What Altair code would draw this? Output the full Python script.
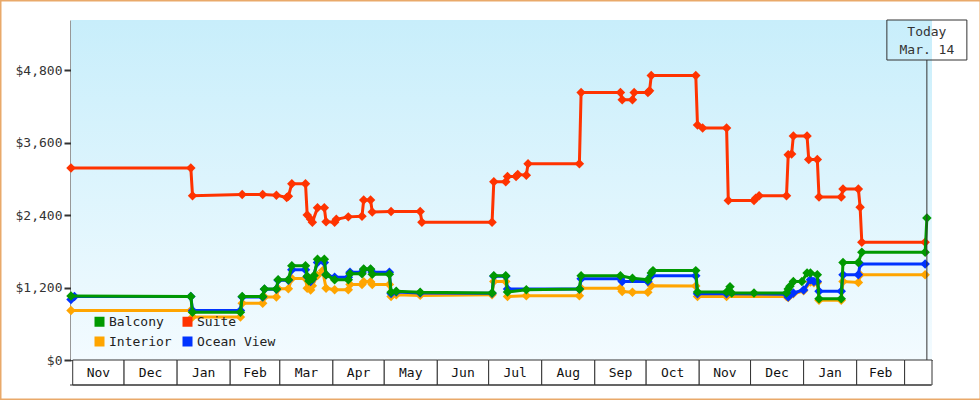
import altair as alt
import pandas as pd

FONT = "DejaVu Sans Mono"
INK = "#333333"
W, H = 861, 340

series_names = ["Balcony", "Suite", "Interior", "Ocean View"]
series_colors = ["#009900", "#ff3300", "#ffa500", "#0033ff"]
draw_order = ["Interior", "Ocean View", "Suite", "Balcony"]

suite_dates = ["2011-10-31", "2012-01-09", "2012-01-10", "2012-02-08", "2012-02-20", "2012-02-28",
               "2012-03-05", "2012-03-06", "2012-03-08", "2012-03-16", "2012-03-17", "2012-03-19",
               "2012-03-20", "2012-03-23", "2012-03-27", "2012-03-28", "2012-04-02", "2012-04-03",
               "2012-04-10", "2012-04-18", "2012-04-19", "2012-04-23", "2012-04-24", "2012-05-05",
               "2012-05-22", "2012-05-23", "2012-07-03", "2012-07-04", "2012-07-11", "2012-07-12",
               "2012-07-17", "2012-07-18", "2012-07-23", "2012-07-24", "2012-08-23", "2012-08-24",
               "2012-09-16", "2012-09-17", "2012-09-23", "2012-09-24", "2012-10-02", "2012-10-03",
               "2012-10-04", "2012-10-30", "2012-10-31", "2012-11-03", "2012-11-17", "2012-11-18",
               "2012-12-03", "2012-12-04", "2012-12-06", "2012-12-22", "2012-12-23", "2012-12-25",
               "2012-12-26", "2013-01-03", "2013-01-04", "2013-01-09", "2013-01-10", "2013-01-23",
               "2013-01-24", "2013-02-02", "2013-02-03", "2013-02-04", "2013-03-13"]
suite_prices = [3180, 3180, 2720, 2740, 2740, 2730,
                2690, 2710, 2920, 2920, 2400, 2330,
                2280, 2520, 2520, 2290, 2280, 2330,
                2370, 2380, 2650, 2650, 2450, 2460,
                2460, 2280, 2280, 2950, 2950, 3040,
                3040, 3070, 3060, 3250, 3250, 4430,
                4430, 4310, 4310, 4430, 4430, 4460,
                4710, 4710, 3890, 3840, 3840, 2640,
                2640, 2680, 2720, 2720, 3400, 3410,
                3710, 3710, 3320, 3320, 2700, 2700,
                2830, 2830, 2530, 1950, 1950]

balcony_dates = ["2011-10-31", "2012-01-09", "2012-01-10", "2012-02-07", "2012-02-08", "2012-02-20",
                 "2012-02-21", "2012-02-28", "2012-02-29", "2012-03-06", "2012-03-08", "2012-03-16",
                 "2012-03-17", "2012-03-18", "2012-03-20", "2012-03-21", "2012-03-23", "2012-03-27",
                 "2012-03-28", "2012-04-02", "2012-04-10", "2012-04-11", "2012-04-18", "2012-04-19",
                 "2012-04-23", "2012-04-24", "2012-05-04", "2012-05-05", "2012-05-08", "2012-05-22",
                 "2012-07-03", "2012-07-04", "2012-07-11", "2012-07-12", "2012-07-23", "2012-08-23",
                 "2012-08-24", "2012-09-16", "2012-09-23", "2012-10-02", "2012-10-04", "2012-10-05",
                 "2012-10-30", "2012-10-31", "2012-11-17", "2012-11-19", "2012-11-20", "2012-12-03",
                 "2012-12-22", "2012-12-23", "2012-12-24", "2012-12-26", "2012-12-31", "2013-01-03",
                 "2013-01-05", "2013-01-09", "2013-01-10", "2013-01-23", "2013-01-24", "2013-02-02",
                 "2013-02-04", "2013-03-13", "2013-03-14"]
balcony_prices = [1060, 1050, 790, 790, 1050, 1050,
                  1175, 1175, 1330, 1330, 1560, 1560,
                  1385, 1310, 1340, 1400, 1670, 1670,
                  1410, 1330, 1330, 1430, 1430, 1505,
                  1505, 1420, 1420, 1120, 1140, 1120,
                  1110, 1395, 1395, 1125, 1165, 1175,
                  1395, 1395, 1355, 1330, 1440, 1480,
                  1480, 1125, 1125, 1215, 1110, 1110,
                  1110, 1175, 1220, 1300, 1300, 1440,
                  1440, 1410, 1015, 1015, 1615, 1615,
                  1785, 1785, 2350]

interior_dates = ["2011-10-31", "2012-01-09", "2012-01-10", "2012-02-07", "2012-02-08", "2012-02-20",
                  "2012-02-21", "2012-02-28", "2012-02-29", "2012-03-06", "2012-03-08", "2012-03-16",
                  "2012-03-17", "2012-03-19", "2012-03-20", "2012-03-23", "2012-03-26", "2012-03-28",
                  "2012-04-02", "2012-04-10", "2012-04-11", "2012-04-18", "2012-04-19", "2012-04-23",
                  "2012-04-24", "2012-05-04", "2012-05-05", "2012-05-08", "2012-05-22", "2012-07-03",
                  "2012-07-04", "2012-07-11", "2012-07-12", "2012-07-23", "2012-08-23", "2012-08-24",
                  "2012-09-16", "2012-09-17", "2012-09-23", "2012-10-02", "2012-10-04", "2012-10-30",
                  "2012-10-31", "2012-11-17", "2012-12-22", "2012-12-23", "2012-12-26", "2013-01-01",
                  "2013-01-05", "2013-01-07", "2013-01-09", "2013-01-10", "2013-01-23", "2013-01-24",
                  "2013-02-02", "2013-02-03", "2013-03-13"]
interior_prices = [820, 820, 710, 710, 940, 940,
                   1045, 1045, 1180, 1180, 1350, 1350,
                   1190, 1160, 1230, 1400, 1480, 1190,
                   1165, 1165, 1250, 1250, 1295, 1295,
                   1250, 1250, 1050, 1080, 1070, 1080,
                   1300, 1300, 1050, 1065, 1065, 1190,
                   1190, 1135, 1120, 1120, 1230, 1225,
                   1050, 1050, 1050, 1035, 1095, 1145,
                   1290, 1280, 1280, 990, 990, 1300,
                   1285, 1410, 1410]

ocean_dates = ["2011-10-31", "2011-11-02", "2012-01-09", "2012-01-10", "2012-02-07", "2012-02-08",
               "2012-02-20", "2012-02-21", "2012-02-28", "2012-02-29", "2012-03-06", "2012-03-08",
               "2012-03-16", "2012-03-17", "2012-03-19", "2012-03-20", "2012-03-23", "2012-03-27",
               "2012-03-28", "2012-04-02", "2012-04-10", "2012-04-11", "2012-04-18", "2012-04-19",
               "2012-04-23", "2012-04-24", "2012-05-04", "2012-05-05", "2012-05-08", "2012-05-22",
               "2012-07-03", "2012-07-04", "2012-07-11", "2012-07-12", "2012-08-23", "2012-08-24",
               "2012-09-16", "2012-09-17", "2012-10-02", "2012-10-04", "2012-10-30", "2012-10-31",
               "2012-11-17", "2012-12-22", "2012-12-23", "2012-12-26", "2013-01-01", "2013-01-05",
               "2013-01-07", "2013-01-09", "2013-01-10", "2013-01-23", "2013-01-24", "2013-02-02",
               "2013-02-03", "2013-03-13"]
ocean_prices = [1000, 1050, 1050, 820, 820, 1045,
                1045, 1170, 1170, 1320, 1320, 1495,
                1495, 1380, 1300, 1340, 1615, 1615,
                1410, 1370, 1370, 1455, 1455, 1500,
                1500, 1455, 1455, 1100, 1125, 1110,
                1105, 1385, 1385, 1175, 1175, 1345,
                1345, 1300, 1300, 1395, 1395, 1095,
                1095, 1090, 1045, 1110, 1160, 1330,
                1300, 1300, 1140, 1140, 1410, 1410,
                1590, 1590]

y_ticks = [0, 1200, 2400, 3600, 4800]
month_starts = ["2011-11-01", "2011-12-01", "2012-01-01", "2012-02-01", "2012-03-01", "2012-04-01",
                "2012-05-01", "2012-06-01", "2012-07-01", "2012-08-01", "2012-09-01", "2012-10-01",
                "2012-11-01", "2012-12-01", "2013-01-01", "2013-02-01", "2013-03-01"]
month_labels = ["Nov", "Dec", "Jan", "Feb", "Mar", "Apr", "May", "Jun", "Jul", "Aug", "Sep", "Oct",
                "Nov", "Dec", "Jan", "Feb", ""]
domain_start = "2011-10-31"
domain_end = "2013-03-17"
today_date = "2013-03-14"
today_title = "Today"
today_label = "Mar. 14"

series_data = {
    "Suite": (suite_dates, suite_prices),
    "Balcony": (balcony_dates, balcony_prices),
    "Interior": (interior_dates, interior_prices),
    "Ocean View": (ocean_dates, ocean_prices),
}
color_of = dict(zip(series_names, series_colors))
rows = []
for name, (ds, ps) in series_data.items():
    for d, p in zip(ds, ps):
        rows.append({"series": name, "date": pd.Timestamp(d), "price": p})
df = pd.DataFrame(rows)

ends = month_starts[1:] + [domain_end]
mdf = pd.DataFrame({"start": pd.to_datetime(month_starts), "end": pd.to_datetime(ends), "label": month_labels})
mdf["mid"] = mdf["start"] + (mdf["end"] - mdf["start"]) / 2

one = pd.DataFrame({"k": [0]})
tdf = pd.DataFrame({"date": [pd.Timestamp(today_date)], "t1": [today_title], "t2": [today_label]})

xscale = alt.Scale(domain=[pd.Timestamp(domain_start).isoformat(), pd.Timestamp(domain_end).isoformat()])
yscale = alt.Scale(domain=[0, 5630], nice=False)
xaxis = alt.Axis(labels=False, ticks=False, grid=False, title=None, domainColor=INK, domainWidth=1)
cscale = alt.Scale(domain=series_names, range=series_colors)


def X(field):
    return alt.X(field, type="temporal", scale=xscale, axis=xaxis)


Y = alt.Y("price:Q", scale=yscale,
          axis=alt.Axis(values=y_ticks, format="$,.0f", grid=False, title=None,
                        domainColor=INK, domainWidth=2, tickColor=INK, tickWidth=2, tickSize=7,
                        labelFont=FONT, labelFontSize=13, labelColor=INK, labelPadding=2))

bg = alt.Chart(one).mark_rect(
    color=alt.LinearGradient(gradient="linear",
                             stops=[alt.GradientStop(color="#c8eefb", offset=0),
                                    alt.GradientStop(color="#f3fbff", offset=1)],
                             x1=0, x2=0, y1=0, y2=1)
).encode(x=alt.value(0), x2=alt.value(W), y=alt.value(0), y2=alt.value(H))

legend = alt.Legend(orient="none", legendX=22, legendY=295, columns=2, direction="horizontal",
                    symbolType="square", symbolSize=100, symbolStrokeWidth=0, labelFont=FONT,
                    labelFontSize=13, labelColor="#222222", labelOffset=3, columnPadding=9,
                    rowPadding=6, title=None, padding=0)

layers = [bg]
for name in draw_order:
    base = alt.Chart(df).transform_filter(alt.datum.series == name)
    line = base.mark_line(strokeWidth=3, color=color_of[name]).encode(x=X("date"), y=Y)
    pts = base.mark_point(shape="diamond", filled=True, size=90, opacity=1).encode(
        x=X("date"), y=Y, color=alt.Color("series:N", scale=cscale, legend=legend))
    layers += [line, pts]

boxes = alt.Chart(mdf).mark_rect(fill="white", stroke=INK, strokeWidth=1).encode(
    x=X("start"), x2="end:T", y=alt.value(H), y2=alt.value(H + 25))
mtext = alt.Chart(mdf).mark_text(font=FONT, fontSize=13, color="#111111", baseline="middle").encode(
    x=X("mid"), y=alt.value(H + 12.5), text="label:N")
bottom = alt.Chart(one).mark_rule(color=INK, strokeWidth=1).encode(
    x=alt.value(-1), x2=alt.value(W - 1), y=alt.value(H + 25))

trule = alt.Chart(tdf).mark_rule(color=INK, strokeWidth=1).encode(
    x=X("date"), y=alt.value(40), y2=alt.value(H))
tbox = alt.Chart(tdf).mark_point(shape="M-1,-0.5L1,-0.5L1,0.5L-1,0.5Z", size=6400, filled=False,
                                 color=INK, strokeWidth=1, opacity=1).encode(
    x=X("date"), y=alt.value(20))
tt1 = alt.Chart(tdf).mark_text(font=FONT, fontSize=13, color=INK, baseline="middle").encode(
    x=X("date"), y=alt.value(12), text="t1:N")
tt2 = alt.Chart(tdf).mark_text(font=FONT, fontSize=13, color=INK, baseline="middle").encode(
    x=X("date"), y=alt.value(30), text="t2:N")

border = alt.Chart(one).mark_rect(fill="white", fillOpacity=0, stroke="#e9a96a", strokeWidth=1.5).encode(
    x=alt.value(-70.25), x2=alt.value(W + 48.25), y=alt.value(-19.25), y2=alt.value(H + 39.25))

layers += [boxes, mtext, bottom, trule, tbox, tt1, tt2, border]

chart = alt.layer(*layers).properties(
    width=W, height=H,
    autosize=alt.AutoSizeParams(type="none"),
    padding={"left": 71, "top": 20, "right": 48, "bottom": 40},
    background="white",
).configure_view(stroke="transparent")

chart.save("out.html", embed_options={"renderer": "svg", "actions": False})
